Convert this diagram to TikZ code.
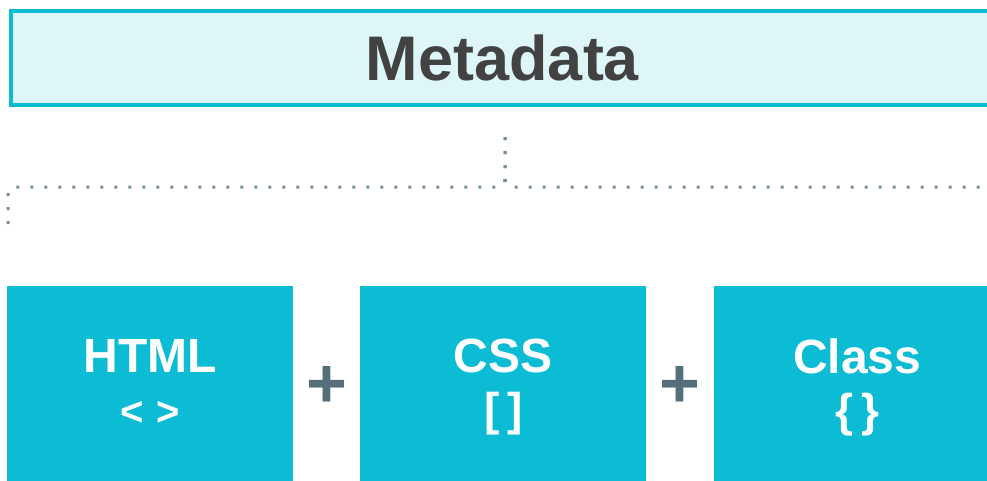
\documentclass[tikz,border=0pt]{standalone}
\usepackage{fontspec}
\setmainfont{Liberation Sans}
\usepackage{tikz}
\usetikzlibrary{shapes,arrows,positioning}
\definecolor{metafill}{HTML}{DFF6F8}
\definecolor{cyanbox}{HTML}{0BBCD4}
\definecolor{titlegray}{HTML}{424242}
\definecolor{plusgray}{HTML}{546E7A}
\definecolor{dotgray}{HTML}{78909C}
\newcommand{\symline}[1]{{\fontsize{46}{53}\selectfont\vphantom{\{[}#1}}
\tikzstyle{metabox} = [rectangle, draw=cyanbox, fill=metafill, line width=4pt,
    anchor=north west, minimum width=990pt, minimum height=94pt, inner sep=0pt,
    text=titlegray, font=\fontsize{63}{63}\selectfont\bfseries]
\tikzstyle{partbox} = [rectangle, fill=cyanbox, text=white, anchor=north west,
    minimum width=286pt, minimum height=202pt, inner sep=0pt, align=center,
    font=\fontsize{48}{53}\selectfont\bfseries]
\tikzstyle{plus} = [text=plusgray, inner sep=0pt, font=\fontsize{70}{70}\selectfont\bfseries]
\tikzstyle{dotline} = [draw=dotgray, line width=3pt, dash pattern=on 3pt off 11pt, rounded corners=8pt]

\begin{document}
\begin{tikzpicture}[x=1pt, y=-1pt]
    \useasboundingbox (0,0) rectangle (987,480);
    \clip (0,0) rectangle (987,480);
    % Place nodes
    \node [metabox] (meta) at (9,9) {\hspace*{-7pt}Metadata};

    \node [partbox] (html) at (7,286) {HTML\\\symline{{\fontsize{40}{53}\selectfont <\,\,>}}};
    \node [partbox] (css) at (360,286) {CSS\\\symline{[\,]}};
    \node [partbox] (class) at (714,286) {Class\\\symline{\{\,\}}};

    \node [plus] (plusa) at (327,387) {+};
    \node [plus] (plusb) at (680,387) {+};

    % Split points
    \coordinate (split) at (505,137);
    \coordinate (lend) at (8,234);
    \coordinate (rend) at (996,234);

    % Draw lines
    \path [dotline] (split) |- (lend |- 0,187) -- (lend);
    \path [dotline] (split) |- (rend |- 0,187) -- (rend);
\end{tikzpicture}
\end{document}
